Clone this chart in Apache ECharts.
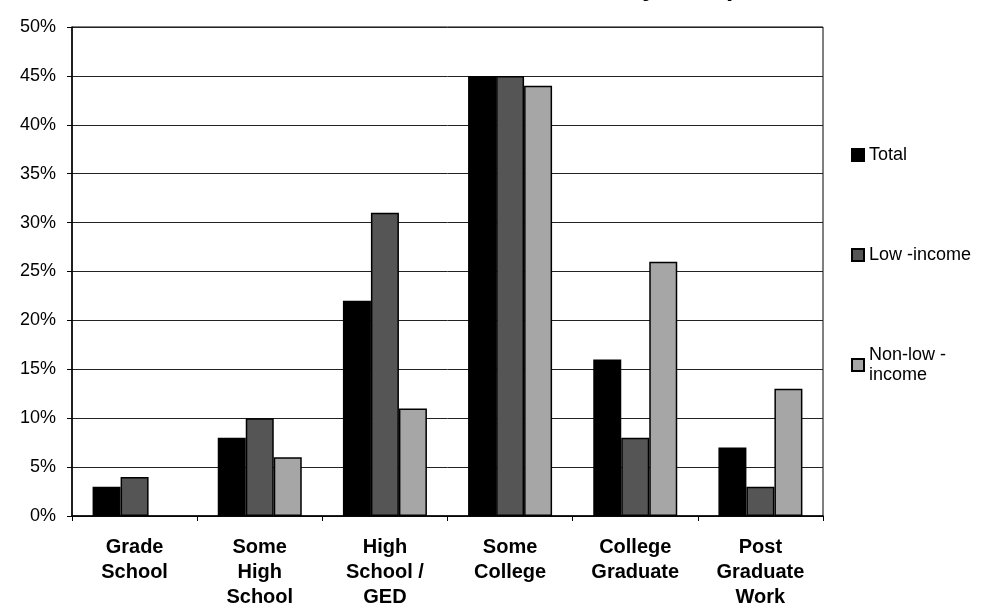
<!DOCTYPE html>
<html>
<head>
<meta charset="utf-8">
<script src="https://cdn.jsdelivr.net/npm/echarts@6/dist/echarts.min.js"></script>
<style>html,body{margin:0;padding:0;background:#fff;}#c{width:990px;height:614px;}</style>
</head>
<body>
<div id="c"></div>
<script>
var categories = ['Grade\nSchool', 'Some\nHigh\nSchool', 'High\nSchool /\nGED', 'Some\nCollege', 'College\nGraduate', 'Post\nGraduate\nWork'];
var totalValues = [3, 8, 22, 45, 16, 7];
var lowIncomeValues = [4, 10, 31, 45, 8, 3];
var nonLowIncomeValues = ['-', 6, 11, 44, 26, 13];
var seriesNames = ['Total', 'Low -income', 'Non-low -\nincome'];
var titleText = 'Educational Attainment by Group';

var font = 'Liberation Sans';
var chart = echarts.init(document.getElementById('c'));
function barSeries(name, data, color) {
  return {
    name: name, type: 'bar', data: data, barWidth: 28, barGap: '0%',
    itemStyle: { color: color, borderColor: '#000', borderWidth: 1.5 }
  };
}
chart.setOption({
  animation: false,
  backgroundColor: '#fff',
  graphic: [{
    type: 'text', x: 742, y: -11.5,
    style: { text: titleText, font: 'bold 26px "Liberation Sans"', fill: '#000', textAlign: 'right', textVerticalAlign: 'middle' }
  }],
  grid: { left: 72, right: 167, top: 27, bottom: 98, show: true, borderColor: '#000', borderWidth: 1 },
  legend: {
    orient: 'vertical', left: 846, top: 140,
    itemWidth: 12, itemHeight: 12, itemGap: 80, icon: 'rect',
    textStyle: { fontFamily: font, fontSize: 18, color: '#000', lineHeight: 20 },
    data: seriesNames
  },
  xAxis: {
    type: 'category', data: categories,
    axisLine: { lineStyle: { color: '#000', width: 1.5 } },
    axisTick: { show: true, length: 5, lineStyle: { color: '#000' } },
    axisLabel: { fontFamily: font, fontWeight: 'bold', fontSize: 20, color: '#000', lineHeight: 25, margin: 19, interval: 0 }
  },
  yAxis: {
    type: 'value', min: 0, max: 50, interval: 5,
    axisLine: { show: true, lineStyle: { color: '#000', width: 1.5 } },
    axisTick: { show: true, length: 5, lineStyle: { color: '#000' } },
    splitLine: { lineStyle: { color: '#222', width: 1 } },
    axisLabel: { formatter: '{value}%', fontFamily: font, fontSize: 18, color: '#000', margin: 16 }
  },
  series: [
    barSeries(seriesNames[0], totalValues, '#000000'),
    barSeries(seriesNames[1], lowIncomeValues, '#555555'),
    barSeries(seriesNames[2], nonLowIncomeValues, '#a6a6a6')
  ]
});
</script>
</body>
</html>
